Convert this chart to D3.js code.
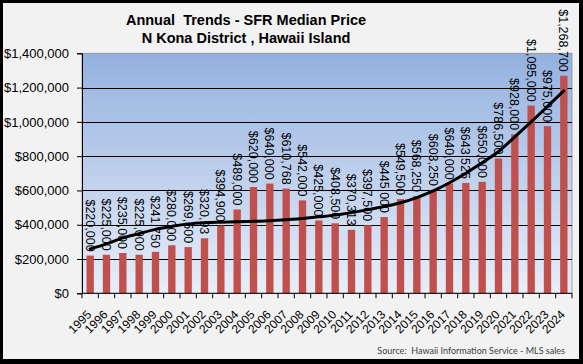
<!DOCTYPE html>
<html>
<head>
<meta charset="utf-8">
<script src="https://cdn.jsdelivr.net/npm/d3@7"></script>
<style>
  html, body { margin: 0; padding: 0; background: #000; }
  svg { display: block; }
</style>
</head>
<body>
<svg id="chart" width="583" height="364"></svg>
<script>
// ---- data ----
const years = ["1995","1996","1997","1998","1999","2000","2001","2002","2003","2004","2005","2006","2007","2008","2009","2010","2011","2012","2013","2014","2015","2016","2017","2018","2019","2020","2021","2022","2023","2024"];
const medianPrice = [220000,225000,235000,225000,241750,280000,269500,320930,394900,489000,620000,640000,610768,542000,425000,408500,370313,397500,445000,549500,568250,603250,640000,643525,650000,786500,928000,1095000,975000,1268700];
const priceLabels = ["$220,000","$225,000","$235,000","$225,000","$241,750","$280,000","$269,500","$320,93","$394,900","$489,000","$620,000","$640,000","$610,768","$542,000","$425,000","$408,500","$370,313","$397,500","$445,000","$549,500","$568,250","$603,250","$640,000","$643,525","$650,000","$786,500","$928,000","$1,095,000","$975,000","$1,268,700"];
const trendValues = [259000,288000,323000,348000,373000,390000,405000,412000,415000,417000,420000,423000,429000,437000,446000,456000,471000,488000,506000,528000,558000,597000,645000,700000,762000,827000,913000,1000000,1090000,1181000];
const yTicks = [0,200000,400000,600000,800000,1000000,1200000,1400000];
const titleLines = ["Annual  Trends - SFR Median Price", "N Kona District , Hawaii Island"];
const sourceText = "Source:  Hawaii Information Service - MLS sales";

// ---- layout ----
const W = 583, H = 364;
const plot = {left: 82, right: 572, top: 53.3, bottom: 293.3};
const svg = d3.select("#chart");

svg.append("rect").attr("x",0).attr("y",0).attr("width",W).attr("height",H).attr("fill","#000");
svg.append("rect").attr("x",3).attr("y",3).attr("width",576).attr("height",356).attr("fill","#f2f2f2");

const defs = svg.append("defs");
const grad = defs.append("linearGradient").attr("id","bg").attr("x1",0).attr("y1",0).attr("x2",0).attr("y2",1);
grad.append("stop").attr("offset","0%").attr("stop-color","#93b1e0");
grad.append("stop").attr("offset","100%").attr("stop-color","#e8eef8");

const x = d3.scaleBand().domain(years).range([plot.left, plot.right]).paddingInner(0.55).paddingOuter(0.275);
const y = d3.scaleLinear().domain([0,1400000]).range([plot.bottom, plot.top]);

svg.append("rect")
  .attr("x",plot.left).attr("y",plot.top)
  .attr("width",plot.right-plot.left).attr("height",plot.bottom-plot.top)
  .attr("fill","url(#bg)").attr("stroke","#8c8c8c").attr("stroke-width",0.8);

// gridlines
svg.append("g").selectAll("line").data(yTicks.filter(d=>d>0 && d<1400000)).join("line")
  .attr("x1",plot.left).attr("x2",plot.right)
  .attr("y1",d=>Math.round(y(d))+0.5).attr("y2",d=>Math.round(y(d))+0.5)
  .attr("stroke","#000").attr("stroke-width",1);

// bars
svg.append("g").selectAll("rect").data(years).join("rect")
  .attr("x",(d)=>x(d))
  .attr("y",(d,i)=>y(medianPrice[i]))
  .attr("width",x.bandwidth())
  .attr("height",(d,i)=>plot.bottom - y(medianPrice[i]))
  .attr("fill","#c0504d");

// y axis
const yAxis = svg.append("g").attr("transform",`translate(${plot.left},0)`)
  .call(d3.axisLeft(y).tickValues(yTicks).tickSize(5).tickPadding(8).tickFormat(d3.format("$,")));
yAxis.select(".domain").attr("stroke","#000");
yAxis.selectAll(".tick line").attr("stroke","#000");
yAxis.selectAll("text").attr("font-family","'Liberation Sans', Arial, sans-serif").attr("font-size",13).attr("fill","#000");

// x axis line and ticks at category boundaries
const xg = svg.append("g");
xg.append("line").attr("x1",plot.left).attr("x2",plot.right).attr("y1",plot.bottom).attr("y2",plot.bottom).attr("stroke","#000");
const step = x.step();
xg.selectAll("line.t").data(d3.range(years.length+1)).join("line").attr("class","t")
  .attr("x1",i=>plot.left + i*step).attr("x2",i=>plot.left + i*step)
  .attr("y1",plot.bottom).attr("y2",plot.bottom+5).attr("stroke","#000");
xg.selectAll("text").data(years).join("text")
  .attr("transform",d=>`translate(${x(d)+x.bandwidth()/2-1},${plot.bottom+19}) rotate(-45)`)
  .attr("text-anchor","end").attr("dy","0.35em")
  .attr("font-family","'Liberation Sans', Arial, sans-serif").attr("font-size",12).attr("fill","#000")
  .text(d=>d);

// trend line
const line = d3.line().x((d,i)=>x(years[i])+x.bandwidth()/2).y(d=>y(d)).curve(d3.curveMonotoneX);
svg.append("path").datum(trendValues).attr("d",line)
  .attr("fill","none").attr("stroke","#000").attr("stroke-width",3).attr("stroke-linecap","round");

// data labels (rotated, reading top to bottom)
svg.append("g").selectAll("text").data(years).join("text")
  .attr("transform",(d,i)=>`translate(${x(d)+x.bandwidth()/2},${y(medianPrice[i])-4}) rotate(90)`)
  .attr("text-anchor","end").attr("dy","0.35em")
  .attr("font-family","'Liberation Sans', Arial, sans-serif").attr("font-size",12.5).attr("fill","#000")
  .text((d,i)=>priceLabels[i]);

// title
const title = svg.append("text").attr("x",246).attr("text-anchor","middle")
  .attr("font-family","'Liberation Sans', Arial, sans-serif").attr("font-weight","bold").attr("font-size",14.5).attr("fill","#000");
title.selectAll("tspan").data(titleLines).join("tspan")
  .attr("x",246).attr("y",(d,i)=>25 + i*18).style("white-space","pre").text(d=>d);

// source
svg.append("text").attr("x",565).attr("y",354).attr("text-anchor","end")
  .attr("font-family","Lato, 'Open Sans', sans-serif").attr("font-size",9).attr("fill","#404040")
  .style("white-space","pre").text(sourceText);
</script>
</body>
</html>
